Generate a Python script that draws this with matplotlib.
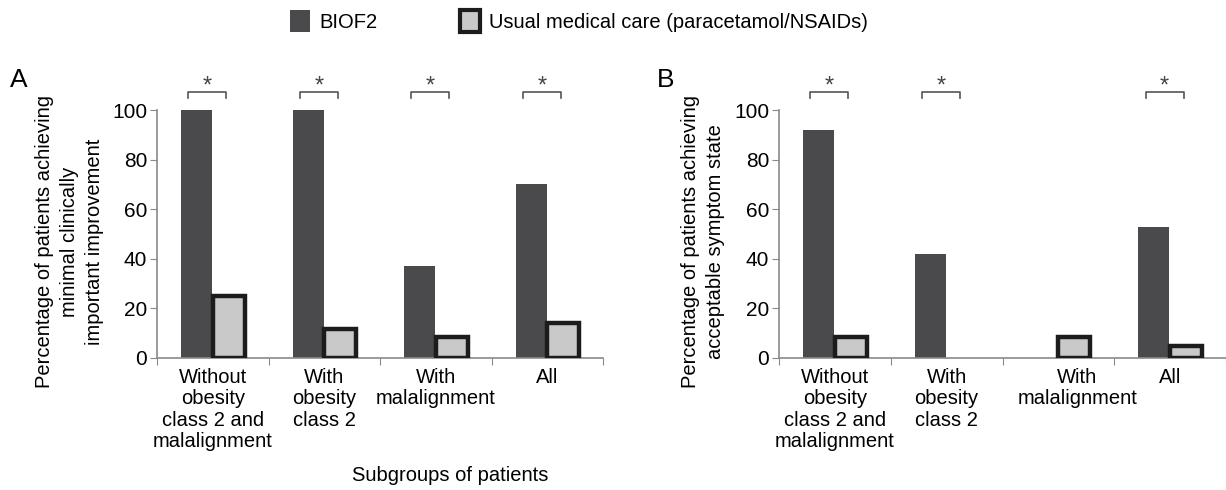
import matplotlib.pyplot as plt
from matplotlib.patches import Rectangle
import numpy as np

plt.rcParams['font.family'] = ['Liberation Sans', 'DejaVu Sans']

# Données
categories = ["Without\nobesity\nclass 2 and\nmalalignment", "With\nobesity\nclass 2",
              "With\nmalalignment", "All"]
biof2_a = [100, 100, 37, 70]
usual_a = [25, 11.5, 8.5, 14]
biof2_b = [92, 42, 0, 53]
usual_b = [8.5, 0, 8.5, 4.8]
signif_a = [True, True, True, True]
signif_b = [True, True, False, True]

ylabel_a = "Percentage of patients achieving\nminimal clinically\nimportant improvement"
ylabel_b = "Percentage of patients achieving\nacceptable symptom state"

DARK = '#4a4a4c'
LIGHT = '#c9c9c9'
EDGE = '#1c1c1c'
AXC = '#8a8a8a'


def draw_panel(ax, labels, dark, light, signif, ylabel, label_shift=None):
    x = np.arange(len(labels)) + 0.5
    ax.bar(x - 0.146, dark, width=0.278, color=DARK, zorder=2)
    lw = [3.2 if v > 0 else 0 for v in light]
    ax.bar(x + 0.141, light, width=0.287, color=LIGHT, edgecolor=EDGE,
           linewidth=lw, zorder=3)
    ax.set_xlim(0, len(labels))
    ax.set_ylim(0, 100)
    ax.set_yticks([0, 20, 40, 60, 80, 100])
    ax.set_xticks(np.arange(len(labels) + 1))
    ax.set_xticklabels([])
    lx = x.copy()
    if label_shift is not None:
        lx = lx + np.array(label_shift)
    ax.set_xticks(lx, minor=True)
    ax.set_xticklabels(labels, minor=True, fontsize=14.5, linespacing=1.17)
    ax.tick_params(axis='x', which='minor', length=0, pad=7)
    ax.tick_params(axis='x', which='major', length=5, color=AXC, direction='out')
    ax.tick_params(axis='y', length=5, color=AXC, labelsize=15, pad=2)
    for s in ['top', 'right']:
        ax.spines[s].set_visible(False)
    for s in ['left', 'bottom']:
        ax.spines[s].set_color(AXC)
        ax.spines[s].set_linewidth(1.2)
    ax.set_ylabel(ylabel, fontsize=14.5, linespacing=1.4)
    ax.yaxis.set_label_coords(-0.12, 0.47)
    # crochets de significativité
    for xi, sig in zip(x, signif):
        if not sig:
            continue
        x0, x1 = xi - 0.22, xi + 0.12
        ax.plot([x0, x0, x1, x1], [104.8, 107.3, 107.3, 104.8], color='#555555',
                lw=1.2, clip_on=False)
        ax.text((x0 + x1) / 2, 105.2, '*', ha='center', va='bottom',
                fontsize=17, color='#444444', clip_on=False)


fig = plt.figure(figsize=(12.26, 4.9), dpi=100)
ax_a = fig.add_axes([0.1281, 0.2694, 0.3638, 0.5061])
ax_b = fig.add_axes([0.6354, 0.2694, 0.3646, 0.5061])

draw_panel(ax_a, categories, biof2_a, usual_a, signif_a, ylabel_a)
draw_panel(ax_b, categories, biof2_b, usual_b, signif_b, ylabel_b,
           label_shift=[0, 0, 0.17, 0])

fig.text(0.008, 0.823, 'A', fontsize=19)
fig.text(0.536, 0.823, 'B', fontsize=19)
fig.text(0.367, 0.018, 'Subgroups of patients', fontsize=14.5, ha='center')

handles = [Rectangle((0, 0), 1, 1, facecolor=DARK),
           Rectangle((0, 0), 1, 1, facecolor=LIGHT, edgecolor=EDGE, linewidth=3)]
fig.legend(handles, ['BIOF2', 'Usual medical care (paracetamol/NSAIDs)'],
           loc='upper left', bbox_to_anchor=(290 / 1226, 1 - 10 / 490), ncol=2,
           frameon=False, fontsize=14.5, handlelength=1.0, handleheight=1.3,
           columnspacing=4.1, handletextpad=0.45, borderpad=0, borderaxespad=0)

fig.savefig('out.png', dpi=100)
